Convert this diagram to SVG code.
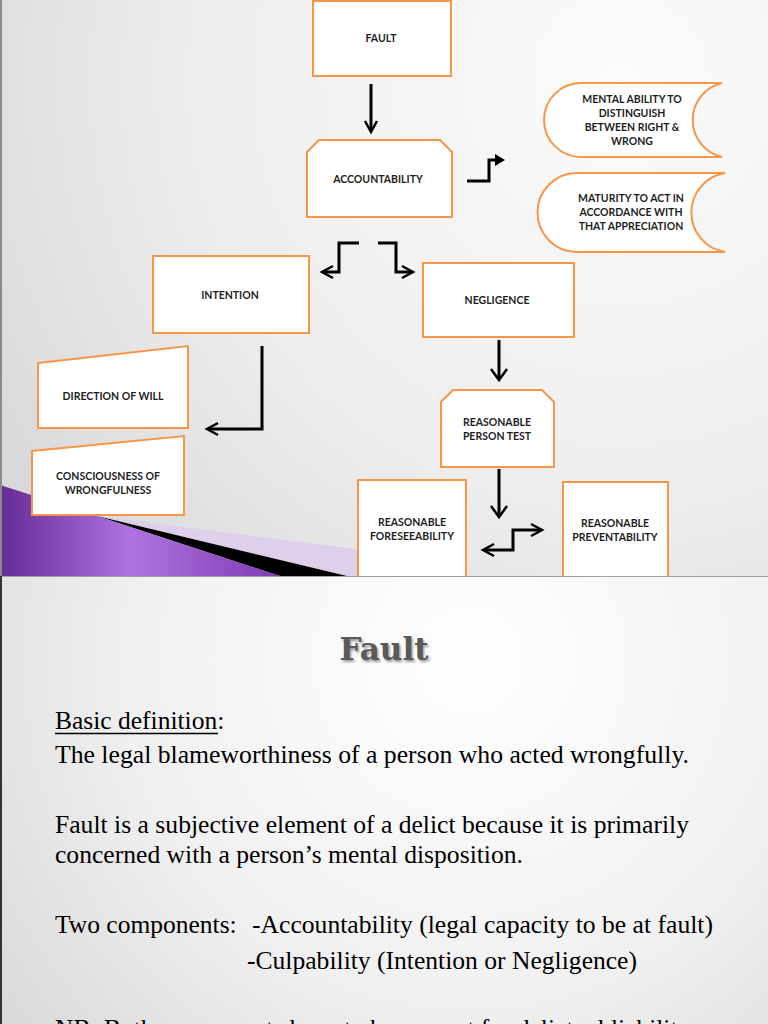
<svg xmlns="http://www.w3.org/2000/svg" width="768" height="1024" viewBox="0 0 768 1024">
<defs>
<radialGradient id="bgTop" cx="620" cy="80" r="720" gradientUnits="userSpaceOnUse">
<stop offset="0" stop-color="#fbfbfb"/>
<stop offset="0.6" stop-color="#ededed"/>
<stop offset="1" stop-color="#d9d9d9"/>
</radialGradient>
<radialGradient id="bgBot" cx="470" cy="660" r="620" gradientUnits="userSpaceOnUse">
<stop offset="0" stop-color="#ffffff"/>
<stop offset="0.55" stop-color="#f0f0f0"/>
<stop offset="1" stop-color="#d6d6d6"/>
</radialGradient>
<linearGradient id="purple" x1="0" y1="0" x2="290" y2="0" gradientUnits="userSpaceOnUse">
<stop offset="0" stop-color="#652b96"/>
<stop offset="0.45" stop-color="#b072e2"/>
<stop offset="1" stop-color="#7a38ad"/>
</linearGradient>
<filter id="shadow" x="-10%" y="-20%" width="130%" height="150%">
<feGaussianBlur stdDeviation="1.2"/>
</filter>
<style>
.node{fill:#ffffff;stroke:#f79646;stroke-width:2}
.lbl{font-family:Lato,"Open Sans","Liberation Sans",sans-serif;font-weight:bold;font-size:10.5px;fill:#1e1e1e;text-anchor:middle}
.con{fill:none;stroke:#000000;stroke-width:3;stroke-linejoin:miter}
.head{fill:none;stroke:#000000;stroke-width:2.5}
.body{font-family:"Liberation Serif","Times New Roman",serif;font-size:25.5px;fill:#000000}
</style>
</defs>
<g id="background-top">
<rect x="0" y="0" width="768" height="576" fill="url(#bgTop)"/>
<polygon points="97,516 420,557 420,576 347,576" fill="#dcd0ea"/>
<polygon points="97,516 347,576 280,576" fill="#000000"/>
<polygon points="0,485 97,516 280,576 0,576" fill="url(#purple)"/>
<line x1="1" y1="0" x2="1" y2="576" stroke="#8a8a8a" stroke-width="2"/>
</g>
<g id="connectors">
<line class="con" x1="371" y1="84" x2="371" y2="131"/>
<polyline class="head" points="365,121 371,132 377,121"/>
<polyline class="con" points="467,181 489,181 489,160 496,160"/>
<polygon points="495,154 505,160 495,166" fill="#000000"/>
<polyline class="con" points="359,243 339,243 339,272 324,272"/>
<polyline class="head" points="333,266 322,272 333,278"/>
<polyline class="con" points="378,243 396,243 396,272 411,272"/>
<polyline class="head" points="402,266 413,272 402,278"/>
<polyline class="con" points="262,346 262,429 209,429"/>
<polyline class="head" points="218,423 207,429 218,435"/>
<line class="con" x1="499" y1="340" x2="499" y2="378"/>
<polyline class="head" points="491,369 499,380 507,369"/>
<line class="con" x1="499" y1="469" x2="499" y2="515"/>
<polyline class="head" points="491,506 499,517 507,506"/>
<polyline class="con" points="485,550 513,550 513,530 540,530"/>
<polyline class="head" points="494,544 483,550 494,556"/>
<polyline class="head" points="531,524 542,530 531,536"/>
</g>
<g id="node-fault">
<rect class="node" x="313" y="1" width="138" height="75"/>
<text class="lbl" x="381" y="42">FAULT</text>
</g>
<g id="node-accountability">
<polygon class="node" points="319,140 440,140 452,152 452,217 307,217 307,152"/>
<text class="lbl" x="378" y="183">ACCOUNTABILITY</text>
</g>
<g id="node-mental">
<path class="node" d="M581,83 L722,83 A38,38 0 0 0 722,157 L581,157 A37,37 0 0 1 581,83 Z"/>
<text class="lbl" x="632" y="103">MENTAL ABILITY TO</text>
<text class="lbl" x="632" y="117">DISTINGUISH</text>
<text class="lbl" x="632" y="131">BETWEEN RIGHT &amp;</text>
<text class="lbl" x="632" y="145">WRONG</text>
</g>
<g id="node-maturity">
<path class="node" d="M577,173 L725,173 A40,40 0 0 0 725,252 L577,252 A39.5,39.5 0 0 1 577,173 Z"/>
<text class="lbl" x="631" y="202">MATURITY TO ACT IN</text>
<text class="lbl" x="631" y="216">ACCORDANCE WITH</text>
<text class="lbl" x="631" y="230">THAT APPRECIATION</text>
</g>
<g id="node-intention">
<rect class="node" x="153" y="256" width="156" height="77"/>
<text class="lbl" x="230" y="299">INTENTION</text>
</g>
<g id="node-negligence">
<rect class="node" x="423" y="263" width="151" height="74"/>
<text class="lbl" x="497" y="304">NEGLIGENCE</text>
</g>
<g id="node-direction">
<polygon class="node" points="38,363 188,346 188,428 38,428"/>
<text class="lbl" x="113" y="400">DIRECTION OF WILL</text>
</g>
<g id="node-consciousness">
<polygon class="node" points="32,451 184,436 184,515 32,515"/>
<text class="lbl" x="108" y="480">CONSCIOUSNESS OF</text>
<text class="lbl" x="108" y="494">WRONGFULNESS</text>
</g>
<g id="node-rpt">
<polygon class="node" points="453,390 542,390 554,402 554,467 441,467 441,402"/>
<text class="lbl" x="497" y="426">REASONABLE</text>
<text class="lbl" x="497" y="440">PERSON TEST</text>
</g>
<g id="node-foreseeability">
<rect class="node" x="358" y="480" width="108" height="110"/>
<text class="lbl" x="412" y="526">REASONABLE</text>
<text class="lbl" x="412" y="540">FORESEEABILITY</text>
</g>
<g id="node-preventability">
<rect class="node" x="563" y="482" width="105" height="110"/>
<text class="lbl" x="615" y="527">REASONABLE</text>
<text class="lbl" x="615" y="541">PREVENTABILITY</text>
</g>
<g id="slide-bottom">
<rect x="0" y="576" width="768" height="448" fill="url(#bgBot)"/>
<line x1="0" y1="576.5" x2="768" y2="576.5" stroke="#a0a0a0" stroke-width="1"/>
<line x1="1" y1="576" x2="1" y2="1024" stroke="#333333" stroke-width="2"/>
<text x="385.5" y="661.5" text-anchor="middle" font-family="'DejaVu Serif','Liberation Serif',serif" font-weight="bold" font-size="31px" fill="#9a9a9a" filter="url(#shadow)">Fault</text>
<text x="384" y="660" text-anchor="middle" font-family="'DejaVu Serif','Liberation Serif',serif" font-weight="bold" font-size="31px" fill="#5a5a5a">Fault</text>
<text class="body" x="55" y="729">Basic definition:</text>
<line x1="55" y1="733.5" x2="218" y2="733.5" stroke="#000000" stroke-width="1.3"/>
<text class="body" x="55" y="763" textLength="634" lengthAdjust="spacingAndGlyphs">The legal blameworthiness of a person who acted wrongfully.</text>
<text class="body" x="55" y="833" textLength="634" lengthAdjust="spacingAndGlyphs">Fault is a subjective element of a delict because it is primarily</text>
<text class="body" x="55" y="863" textLength="468" lengthAdjust="spacingAndGlyphs">concerned with a person’s mental disposition.</text>
<text class="body" x="55" y="933">Two components:</text>
<text class="body" x="252" y="933" textLength="461" lengthAdjust="spacingAndGlyphs">-Accountability (legal capacity to be at fault)</text>
<text class="body" x="247" y="969" textLength="390" lengthAdjust="spacingAndGlyphs">-Culpability (Intention or Negligence)</text>
<text class="body" x="55" y="1037">NB: Both components have to be present for delictual liability</text>
</g>
</svg>
